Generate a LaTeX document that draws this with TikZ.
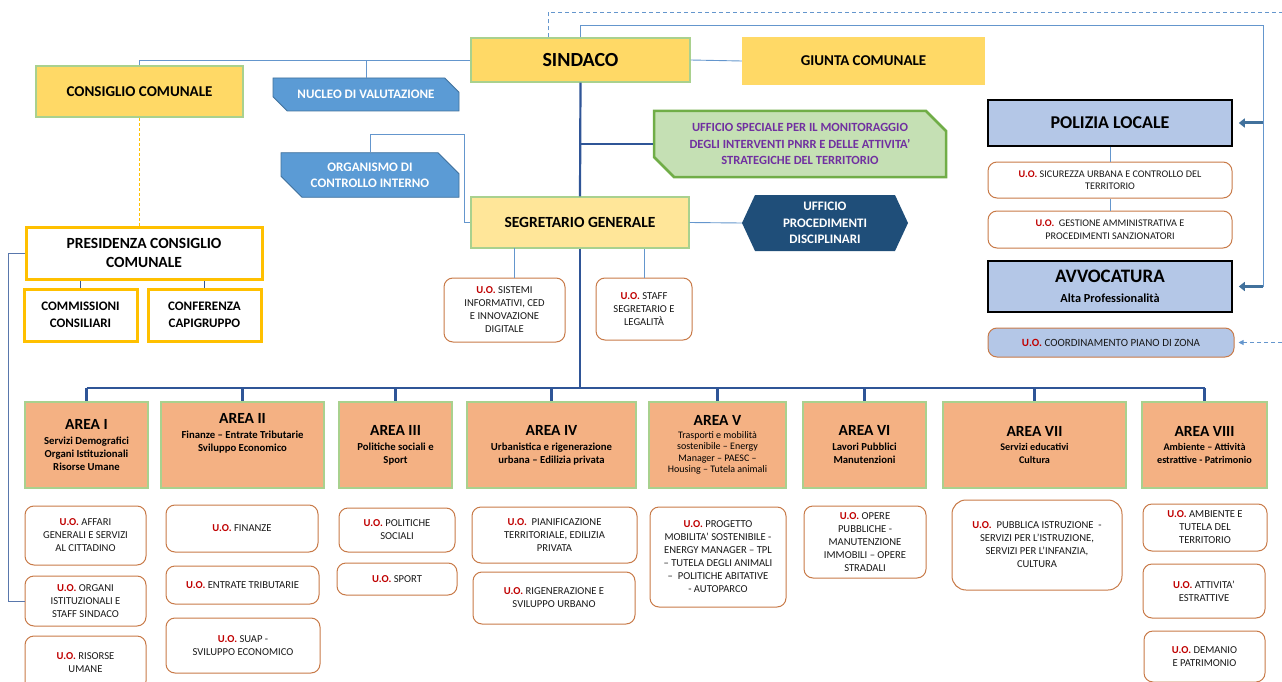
\documentclass[tikz,border=0pt]{standalone}
\usepackage{fontspec}
\setmainfont{Carlito}
\usetikzlibrary{shapes.misc,arrows.meta}
\definecolor{mayoryellow}{RGB}{255,217,102}
\definecolor{secyellow}{RGB}{255,230,153}
\definecolor{paleborder}{RGB}{169,209,142}
\definecolor{presgold}{RGB}{255,192,0}
\definecolor{staffblue}{RGB}{91,155,213}
\definecolor{staffborder}{RGB}{65,113,156}
\definecolor{navyblue}{RGB}{31,78,121}
\definecolor{pnrrgreen}{RGB}{197,224,180}
\definecolor{pnrrborder}{RGB}{112,173,71}
\definecolor{pnrrpurple}{RGB}{112,48,160}
\definecolor{policeblue}{RGB}{180,199,231}
\definecolor{unitborder}{RGB}{200,122,72}
\definecolor{areaorange}{RGB}{244,177,131}
\definecolor{unitred}{RGB}{192,0,0}
\definecolor{linkblue}{RGB}{100,150,205}
\definecolor{trunkblue}{RGB}{47,85,151}
\definecolor{arrowblue}{RGB}{65,113,156}
\newcommand{\fsz}[2]{\fontsize{#1}{#2}\selectfont}
\newcommand{\uo}{{\bfseries\color{unitred}U.O.}}

\begin{document}
\begin{tikzpicture}[x=1pt,y=-1pt,
  every node/.style={align=center, inner sep=1pt},
  mayorbox/.style={fill=mayoryellow, draw=paleborder, line width=1.2pt, font=\fsz{15}{18}\bfseries},
  staffbox/.style={chamfered rectangle, chamfered rectangle corners={north east,south west},
    chamfered rectangle xsep=12pt, chamfered rectangle ysep=9pt,
    fill=staffblue, draw=staffborder, line width=0.8pt, text=white, font=\fsz{13}{16}\bfseries},
  presbox/.style={draw=presgold, line width=3pt, fill=white},
  policebox/.style={fill=policeblue, draw=black, line width=1.5pt, minimum width=244pt},
  unit/.style={draw=unitborder, line width=1pt, rounded corners=9pt, fill=white,
    text=black!90, font=\fsz{10.6}{13}},
  areabox/.style={fill=areaorange, draw=paleborder, line width=1.5pt, minimum height=86pt,
    font=\fsz{10.7}{13}\bfseries},
  link/.style={draw=linkblue, line width=0.9pt},
  trunk/.style={draw=trunkblue, line width=2.2pt},
  dashline/.style={draw=linkblue, line width=0.9pt, dash pattern=on 4pt off 3pt},
  bigarrow/.style={draw=arrowblue, line width=3pt, -{Triangle[width=9pt,length=6pt]}}
]
\clip (0,0) rectangle (1282,682);

% top level
\node[mayorbox, minimum width=219pt, minimum height=44pt, font=\fsz{20}{24}\bfseries] (sindaco) at (580.5,60) {SINDACO};
\node[fill=mayoryellow, minimum width=243pt, minimum height=48pt, font=\fsz{15}{18}\bfseries] (giunta) at (863.5,61) {GIUNTA COMUNALE};
\node[mayorbox, minimum width=207pt, minimum height=51pt] (consiglio) at (139.5,91.5) {CONSIGLIO COMUNALE};
\node[staffbox, minimum width=186pt, minimum height=33pt] (nucleo) at (366,94.5) {NUCLEO DI VALUTAZIONE};
\node[staffbox, minimum width=178pt, minimum height=34pt] (organismo) at (370,175) {ORGANISMO DI\\CONTROLLO INTERNO};
\node[chamfered rectangle, chamfered rectangle corners={north east,south west},
  chamfered rectangle xsep=10pt, chamfered rectangle ysep=10pt,
  fill=pnrrgreen, draw=pnrrborder, line width=2.5pt, text=pnrrpurple, font=\fsz{12.5}{16.5}\bfseries,
  minimum width=292pt, minimum height=66pt] (pnrr) at (800,144)
  {UFFICIO SPECIALE PER IL MONITORAGGIO\\DEGLI INTERVENTI PNRR E DELLE ATTIVITA'\\STRATEGICHE DEL TERRITORIO};

% segretario
\node[fill=secyellow, draw=paleborder, line width=1.2pt, minimum width=218pt, minimum height=51pt,
  font=\fsz{15.5}{18}\bfseries] (segretario) at (580,222.5) {SEGRETARIO GENERALE};
\fill[navyblue] (742,223) -- (755,195) -- (895,195) -- (908,223) -- (895,251) -- (755,251) -- cycle;
\node[text=white, font=\fsz{13}{16.5}\bfseries,
  minimum width=166pt, minimum height=56pt] (disciplinari) at (825,223) {UFFICIO\\PROCEDIMENTI\\DISCIPLINARI};
\node[unit, minimum width=121pt, minimum height=64pt] (sistemi) at (504.5,310) {\uo{} SISTEMI\\INFORMATIVI, CED\\E INNOVAZIONE\\DIGITALE};
\node[unit, minimum width=96pt, minimum height=62pt] (segreteria) at (644,309) {\uo{} STAFF\\SEGRETARIO E\\LEGALITÀ};

% right column
\node[policebox, minimum height=46pt, font=\fsz{18}{21}\bfseries] (polizia) at (1110,123) {POLIZIA LOCALE};
\node[unit, minimum width=244pt, minimum height=36pt, font=\fsz{10.2}{12.5}] (sicurezza) at (1110,180) {\uo{} SICUREZZA URBANA E CONTROLLO DEL\\TERRITORIO};
\node[unit, minimum width=244pt, minimum height=37pt, font=\fsz{10.2}{12.5}] (sanzioni) at (1110,229.5) {\uo{}~ GESTIONE AMMINISTRATIVA E\\PROCEDIMENTI SANZIONATORI};
\node[policebox, minimum height=51pt, font=\fsz{12.3}{20}\bfseries] (avvocatura) at (1110,286.5) {{\fsz{19}{21}AVVOCATURA}\\Alta Professionalità};
\node[unit, fill=policeblue, minimum width=246pt, minimum height=29pt, font=\fsz{11}{13}] (pianozona) at (1111,342.5) {\uo{} COORDINAMENTO PIANO DI ZONA};

% presidenza
\node[presbox, minimum width=236pt, minimum height=52pt, font=\fsz{15.5}{19}\bfseries] (presidenza) at (144,253) {PRESIDENZA CONSIGLIO\\COMUNALE};
\node[presbox, minimum width=113pt, minimum height=52pt, font=\fsz{13}{16.5}\bfseries] (commissioni) at (80.5,315) {COMMISSIONI\\CONSILIARI};
\node[presbox, minimum width=113pt, minimum height=52pt, font=\fsz{13}{16.5}\bfseries] (capigruppo) at (204.5,315) {CONFERENZA\\CAPIGRUPPO};

% areas
\node[areabox, minimum width=123pt] (area1) at (86.5,445) {{\fsz{15.5}{17}AREA I}\\[2pt]Servizi Demografici\\Organi Istituzionali\\Risorse Umane};
\node[areabox, minimum width=163pt] (area2) at (242.5,445) {{\fsz{15.5}{17}AREA II}\\[2pt]Finanze – Entrate Tributarie\\Sviluppo Economico\\[13pt]};
\node[areabox, minimum width=113pt] (area3) at (395.5,445) {{\fsz{15.5}{17}AREA III}\\[2pt]Politiche sociali e\\Sport};
\node[areabox, minimum width=169pt] (area4) at (551.5,445) {{\fsz{15.5}{17}AREA IV}\\[2pt]Urbanistica e rigenerazione\\urbana – Edilizia privata};
\node[areabox, minimum width=137pt, font=\fsz{10}{11.4}] (area5) at (717.5,445) {{\fsz{15.5}{17}\bfseries AREA V}\\[1pt]Trasporti e mobilità\\sostenibile – Energy\\Manager – PAESC –\\Housing – Tutela animali};
\node[areabox, minimum width=123pt] (area6) at (864.5,445) {{\fsz{15.5}{17}AREA VI}\\[2pt]Lavori Pubblici\\Manutenzioni};
\node[areabox, minimum width=183pt, font=\fsz{10.2}{12.3}\bfseries] (area7) at (1034.5,445) {{\fsz{15.5}{17}AREA VII}\\[2pt]Servizi educativi\\Cultura};
\node[areabox, minimum width=125pt, font=\fsz{10.2}{12.3}\bfseries] (area8) at (1204.5,445) {{\fsz{15.5}{17}AREA VIII}\\[2pt]Ambiente – Attività\\estrattive - Patrimonio};

% units of the areas
\node[unit, minimum width=121pt, minimum height=59pt] (uoa1) at (85.5,535.5) {\uo{} AFFARI\\GENERALI E SERVIZI\\AL CITTADINO};
\node[unit, minimum width=121pt, minimum height=50pt] (uoa2) at (85.5,601) {\uo{} ORGANI\\ISTITUZIONALI E\\STAFF SINDACO};
\node[unit, minimum width=121pt, minimum height=54pt] (uoa3) at (85.5,663) {\uo{} RISORSE\\UMANE};
\node[unit, minimum width=152pt, minimum height=47pt] (uob1) at (242,528.5) {\uo{} FINANZE};
\node[unit, minimum width=153pt, minimum height=38pt] (uob2) at (242.5,585) {\uo{} ENTRATE TRIBUTARIE};
\node[unit, minimum width=154pt, minimum height=55pt] (uob3) at (243,645.5) {\uo{} SUAP -\\SVILUPPO ECONOMICO};
\node[unit, minimum width=116pt, minimum height=44pt] (uoc1) at (397,530) {\uo{} POLITICHE\\SOCIALI};
\node[unit, minimum width=120pt, minimum height=32pt] (uoc2) at (397,579) {\uo{} SPORT};
\node[unit, minimum width=165pt, minimum height=56pt] (uod1) at (554.5,535) {\uo{}~ PIANIFICAZIONE\\TERRITORIALE, EDILIZIA\\PRIVATA};
\node[unit, minimum width=162pt, minimum height=52pt] (uod2) at (554,598) {\uo{} RIGENERAZIONE E\\SVILUPPO URBANO};
\node[unit, minimum width=136pt, minimum height=100pt] (uoe1) at (718,557) {\uo{} PROGETTO\\MOBILITA' SOSTENIBILE -\\ENERGY MANAGER – TPL\\– TUTELA DEGLI ANIMALI\\–~ POLITICHE ABITATIVE\\- AUTOPARCO};
\node[unit, minimum width=122pt, minimum height=72pt] (uof1) at (865,542) {\uo{} OPERE\\PUBBLICHE -\\MANUTENZIONE\\IMMOBILI – OPERE\\STRADALI};
\node[unit, minimum width=170pt, minimum height=90pt, rounded corners=14pt] (uog1) at (1037,545) {\uo{}~ PUBBLICA ISTRUZIONE~ -\\SERVIZI PER L'ISTRUZIONE,\\SERVIZI PER L'INFANZIA,\\CULTURA};
\node[unit, minimum width=124pt, minimum height=47pt] (uoh1) at (1205,527.5) {\uo{} AMBIENTE E\\TUTELA DEL\\TERRITORIO};
\node[unit, minimum width=122pt, minimum height=54pt] (uoh2) at (1204,591) {\uo{} ATTIVITA'\\ESTRATTIVE};
\node[unit, minimum width=121pt, minimum height=51pt] (uoh3) at (1204.5,656.5) {\uo{} DEMANIO\\E PATRIMONIO};

% connectors
\coordinate (busy) at (0,388);
\coordinate (okink) at (464,134);
\coordinate (rpol) at (1263,123);
\coordinate (ravv) at (1263,286.5);
\coordinate (rdash) at (1282,12);
\coordinate (rzona) at (1282,342.5);

\draw[link] (sindaco.east) -- (giunta.west);
\draw[link] (consiglio.north) |- (sindaco.west);
\draw[link] (nucleo.north) -- (nucleo.north |- sindaco.west);
\draw[link] (organismo.north) |- (okink) |- (segretario.west);
\draw[link] (segretario.east) -- (disciplinari.west);
\draw[link] ([xshift=9.5pt]sistemi.north) -- ++(0,-30);
\draw[link] (segreteria.north) -- (segreteria.north |- segretario.south);
\draw[link] (polizia.south) -- (sicurezza.north);
\draw[link] (sicurezza.south) -- (sanzioni.north);
\draw[draw=presgold, line width=1.3pt, dash pattern=on 3pt off 2pt] (consiglio.south) -- (consiglio.south |- presidenza.north);
\draw[draw=trunkblue, line width=1pt] (commissioni.north) -- (commissioni.north |- presidenza.south);
\draw[draw=trunkblue, line width=1pt] (capigruppo.north) -- (capigruppo.north |- presidenza.south);
\draw[draw=trunkblue!80, line width=1pt] (presidenza.west) -- ++(-16,0) |- (uoa2.west);

% main line
\draw[trunk] (sindaco.south) -- (segretario.north);
\draw[trunk] (segretario.south) -- (segretario.south |- busy);
\draw[trunk] (sindaco.south |- pnrr.west) -- (pnrr.west);
\draw[trunk] (area1.north |- busy) -- (area8.north |- busy);
\foreach \i in {1,...,8}
  \draw[trunk] (area\i.north |- busy) -- (area\i.north);

% lines to the right column
\draw[link] (sindaco.north) -- ++(0,-12) -| (ravv);
\draw[bigarrow, shorten >=6pt] (rpol) -- (polizia.east);
\draw[bigarrow, shorten >=6pt] (ravv) -- (avvocatura.east);
\draw[dashline] ([xshift=-32pt]sindaco.north) |- (rdash);
\draw[dashline, -{Triangle[width=5pt,length=5pt]}, shorten >=4pt] (rzona) -- (pianozona.east);
\end{tikzpicture}
\end{document}
